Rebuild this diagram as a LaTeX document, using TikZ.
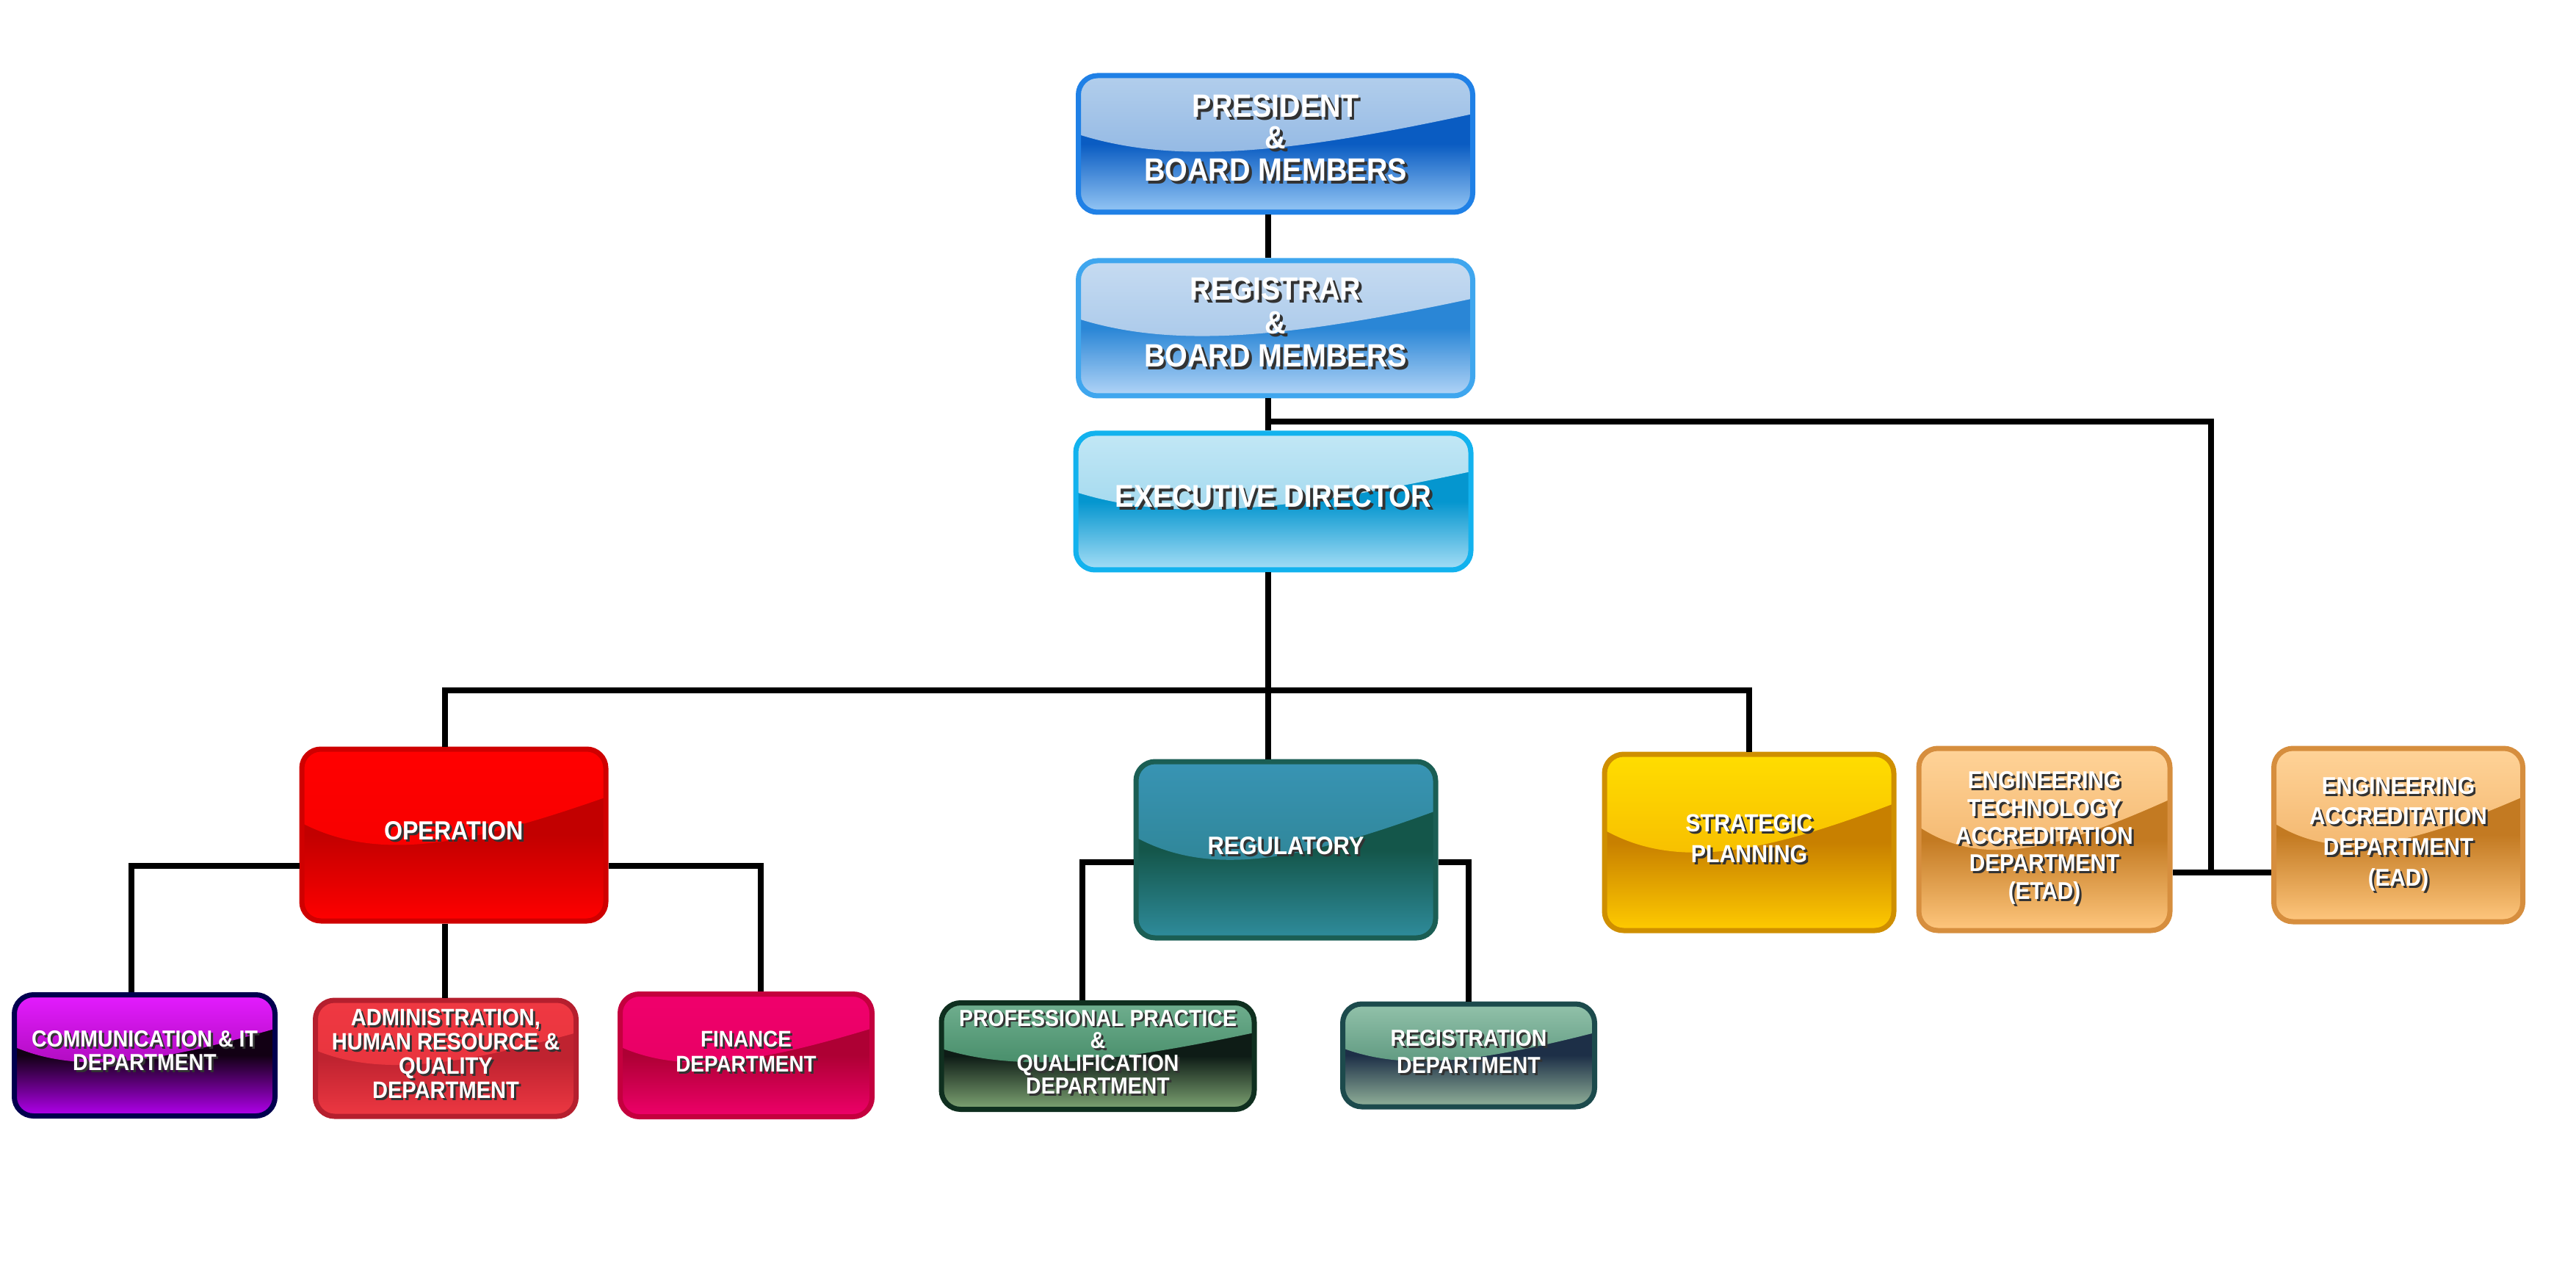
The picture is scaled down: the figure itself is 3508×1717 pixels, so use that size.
\documentclass[tikz,border=0pt]{standalone}
\usepackage{fontspec}
\newfontfamily\orgfont[FakeStretch=0.9]{Liberation Sans}
\usetikzlibrary{calc}

% five colours per box: edge, gloss top, gloss bottom, lower top, lower bottom
\newcommand{\orgcolors}[6]{%
  \definecolor{#1-e}{HTML}{#2}\definecolor{#1-ha}{HTML}{#3}\definecolor{#1-hb}{HTML}{#4}%
  \definecolor{#1-la}{HTML}{#5}\definecolor{#1-lb}{HTML}{#6}}
\orgcolors{pres}{1F80E6}{B2CEEC}{7EAADE}{0A5CC2}{95C7F5}
\orgcolors{regi}{3FA6EE}{C6DBF1}{98BEE6}{2A86D6}{B3D5F7}
\orgcolors{exec}{12B2EE}{C2E7F5}{8CCFEA}{0596CF}{A6DEF6}
\orgcolors{oper}{CF0000}{FF0000}{F20000}{C20000}{FF0000}
\orgcolors{comm}{00004E}{E41CFF}{8A0090}{120014}{B400F0}
\orgcolors{admn}{B51F2E}{EF3842}{E3323B}{BF2330}{EE3842}
\orgcolors{finc}{C4003E}{F0006C}{E2005F}{AE0034}{EF006A}
\orgcolors{regu}{1B5E54}{3894B4}{2A7C84}{14564A}{2F8C9C}
\orgcolors{prof}{0F2F1F}{6FAE8E}{2B7650}{0E1C16}{7FA574}
\orgcolors{rgst}{1C4A4C}{92C2AA}{3A7C62}{1D2F47}{92B29A}
\orgcolors{strt}{CF8F00}{FFDD00}{F2A900}{C88000}{FFCB00}
\orgcolors{accr}{D68E3E}{FFD398}{EBA452}{C37A22}{FFC77E}

% white label with a dark drop shadow
\newcommand{\boxtext}[1]{%
  \makebox[0pt][l]{\hspace{0.09em}\raisebox{-0.09em}{\color{black!80}\begin{tabular}{@{}c@{}}#1\end{tabular}}}%
  \begin{tabular}{@{}c@{}}#1\end{tabular}}

\tikzset{
  gloss/.style={path picture={
    \shade[sharp corners,top color=#1-ha,bottom color=#1-hb]
      let \p1=(path picture bounding box.north west), \p2=(path picture bounding box.south east) in
      (\x1,\y1) -- (\x1,{\y1+0.43*(\y2-\y1)})
      .. controls ({\x1+0.25*(\x2-\x1)},{\y1+0.66*(\y2-\y1)}) and ({\x1+0.55*(\x2-\x1)},{\y1+0.56*(\y2-\y1)})
      .. (\x2,{\y1+0.28*(\y2-\y1)}) -- (\x2,\y1) -- cycle;
  }},
  box/.style={rounded corners=2.6mm,line width=0.7mm,inner sep=0pt,text=white,
    draw=#1-e,top color=#1-la,bottom color=#1-lb,middle color=#1-la,gloss=#1},
  fs/.style 2 args={font=\orgfont\bfseries\fontsize{#1}{#2}\selectfont},
  link/.style={line width=0.8mm,draw=black}
}

\begin{document}
\begin{tikzpicture}[x=0.1mm,y=-0.1mm]
    \useasboundingbox (0,0) rectangle (3508,1717);

    % top of the chart
    \node[box=pres,fs={12.5}{12},minimum width=53.7mm,minimum height=18.6mm] (president) at (1737,196)
        {\boxtext{PRESIDENT\\\&\\BOARD MEMBERS}};
    \node[box=regi,fs={12.5}{13},minimum width=53.7mm,minimum height=18.4mm] (registrar) at (1737,447)
        {\boxtext{REGISTRAR\\\&\\BOARD MEMBERS}};
    \node[box=exec,fs={12.2}{13},minimum width=53.8mm,minimum height=18.6mm] (exec) at (1734,683)
        {\boxtext{EXECUTIVE DIRECTOR}};

    % second level
    \node[box=oper,fs={10.2}{11},minimum width=41.4mm,minimum height=23.4mm] (operation) at (618,1137)
        {\boxtext{OPERATION}};
    \node[box=regu,fs={9.8}{11},minimum width=40.8mm,minimum height=24mm] (regulatory) at (1751,1157)
        {\boxtext{REGULATORY}};
    \node[box=strt,fs={9.6}{11.9},minimum width=39.4mm,minimum height=24mm] (strategic) at (2382,1147)
        {\boxtext{STRATEGIC\\PLANNING}};
    \node[box=accr,fs={9.4}{10.7},minimum width=34.2mm,minimum height=24.8mm] (etad) at (2784,1143)
        {\boxtext{ENGINEERING\\TECHNOLOGY\\ACCREDITATION\\DEPARTMENT\\(ETAD)}};
    \node[box=accr,fs={9.4}{11.9},minimum width=33.9mm,minimum height=23.6mm] (ead) at (3266,1137)
        {\boxtext{ENGINEERING\\ACCREDITATION\\DEPARTMENT\\(EAD)}};

    % departments
    \node[box=comm,fs={9}{9.1},minimum width=35.5mm,minimum height=16.5mm] (comm) at (197,1437)
        {\boxtext{COMMUNICATION \& IT\\DEPARTMENT}};
    \node[box=admn,fs={9.2}{9.4},minimum width=35.5mm,minimum height=15.8mm] (admin) at (607,1441)
        {\boxtext{ADMINISTRATION,\\HUMAN RESOURCE \&\\QUALITY\\DEPARTMENT}};
    \node[box=finc,fs={8.8}{9.7},minimum width=34.3mm,minimum height=16.7mm] (finance) at (1016,1437)
        {\boxtext{FINANCE\\DEPARTMENT}};
    \node[box=prof,fs={9}{8.4},minimum width=42.6mm,minimum height=14.5mm] (profprac) at (1495,1438)
        {\boxtext{PROFESSIONAL PRACTICE\\\&\\QUALIFICATION\\DEPARTMENT}};
    \node[box=rgst,fs={9}{10.7},minimum width=34.3mm,minimum height=14mm] (registration) at (2000,1437)
        {\boxtext{REGISTRATION\\DEPARTMENT}};

    % junctions
    \coordinate (sidetap) at (1727,574);
    \coordinate (sidejoin) at (3011,1188);
    \coordinate (mainbus) at (1727,940);
    \coordinate (opbus) at (606,1179);
    \coordinate (regbus) at (1727,1174);

    \draw[link] ([xshift=-1mm]president.south) -- ([xshift=-1mm]president.south |- registrar.north);
    \draw[link] ([xshift=-1mm]registrar.south) -- ([xshift=-1mm]registrar.south |- exec.north);
    \draw[link] (mainbus |- exec.south) -- (mainbus |- regulatory.north);
    \draw[link] (sidetap) -| (sidejoin);
    \draw[link] (etad.east |- sidejoin) -- (ead.west |- sidejoin);
    \draw[link] (opbus |- operation.north) |- (mainbus) -| (strategic.north);
    \draw[link] (operation.west |- opbus) -| ([xshift=-1.8mm]comm.north);
    \draw[link] (operation.east |- opbus) -| ([xshift=2mm]finance.north);
    \draw[link] (opbus |- operation.south) -- (opbus |- admin.north);
    \draw[link] (regulatory.west |- regbus) -| ([xshift=-2.1mm]profprac.north);
    \draw[link] (regulatory.east |- regbus) -| (registration.north);
\end{tikzpicture}
\end{document}
